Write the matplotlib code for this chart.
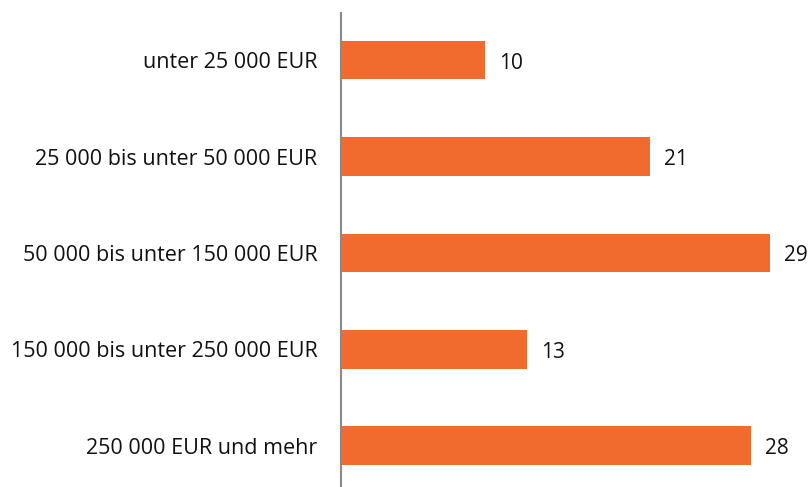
import matplotlib.pyplot as plt

# categories (top to bottom) and shares in percent
categories = [
    "unter 25 000 EUR",
    "25 000 bis unter 50 000 EUR",
    "50 000 bis unter 150 000 EUR",
    "150 000 bis unter 250 000 EUR",
    "250 000 EUR und mehr",
]
values = [9.8, 21.0, 29.1, 12.6, 27.8]

plt.rcParams['font.family'] = ['Open Sans', 'DejaVu Sans']

fig = plt.figure(figsize=(8.11, 4.87), dpi=100)
ax = fig.add_axes([341 / 811, 0, 470 / 811, 474 / 487])

pos = list(range(len(categories)))
ax.barh(pos, values, height=0.40, color='#F26B2E')

for p, v in zip(pos, values):
    ax.text(v + 0.95, p + 0.03, f"{v:.0f}", va='center', ha='left', fontsize=15, color='#111111')

ax.set_ylim(4.43, -0.49)
ax.set_xlim(0, 31.9)
ax.set_yticks(pos)
ax.set_yticklabels(categories, fontsize=15.5, color='#111111')
ax.tick_params(axis='y', length=0, pad=17)
ax.set_xticks([])

for s in ['top', 'right', 'bottom']:
    ax.spines[s].set_visible(False)
ax.spines['left'].set_color('#898989')
ax.spines['left'].set_linewidth(1.5)

fig.savefig('out.png', dpi=100)
